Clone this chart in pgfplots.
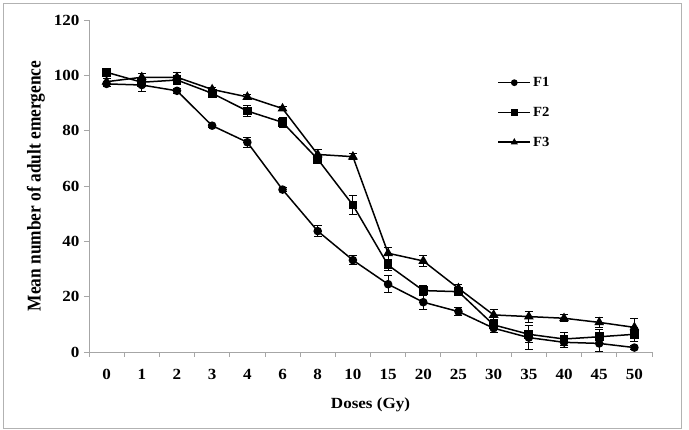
\documentclass[border=0pt]{standalone}
\usepackage{pgfplots}
\pgfplotsset{compat=1.18}
\usepackage{pgfplotstable}
\usepackage{fontspec}
\setmainfont{Liberation Serif}[FakeStretch=1.1]
\newfontfamily\ylabfont{Liberation Serif}[FakeStretch=0.89]
\newfontfamily\legfont{Liberation Serif}[FakeStretch=1.05]

\pgfplotstableread{
x F1 e1 F2 e2 F3 e3
0 96.9 1.0 101.1 0.8 97.7 1.0
1 96.5 2.3 97.5 1.5 99.3 1.5
2 94.4 1.0 98.3 1.5 99.3 1.8
3 81.8 0.6 93.5 1.0 94.9 0.8
4 75.8 1.8 87.1 2.0 92.2 1.0
5 58.7 0.8 83.0 1.8 88.0 0.8
6 43.7 2.0 69.7 1.5 71.4 1.8
7 33.2 1.5 53.1 3.4 70.6 1.0
8 24.5 3.0 31.4 1.8 35.7 2.2
9 18.0 2.7 22.2 1.8 32.9 2.0
10 14.6 1.5 21.8 1.0 23.0 1.5
11 8.6 1.5 9.8 1.5 13.4 1.8
12 5.2 4.4 6.4 3.0 12.8 2.0
13 3.5 2.0 4.7 2.5 12.2 1.2
14 3.1 3.0 5.5 2.5 10.7 1.8
15 1.6 0.6 6.4 2.5 8.9 3.1
}\data

\begin{document}
\begin{tikzpicture}[x=1pt,y=1pt]
\path[use as bounding box] (-89,-78) rectangle (600,352);
\draw[gray!60, line width=0.8pt] (-86,-76) rectangle (592,349);
\begin{axis}[
  at={(0,0)}, anchor=south west,
  scale only axis, width=563pt, height=332pt,
  xmin=-0.5, xmax=15.5, ymin=0, ymax=120,
  axis x line*=bottom, axis y line*=left,
  axis line style={gray!70, line width=0.8pt},
  every tick/.style={gray!70, line width=0.8pt},
  tick align=outside, major tick length=5pt,
  /pgf/number format/assume math mode=true,
  xtick={-0.5,0.5,...,15.5}, xticklabels={},
  extra x ticks={0,1,...,15},
  extra x tick labels={0,1,2,3,4,6,8,10,15,20,25,30,35,40,45,50},
  extra x tick style={major tick length=0pt},
  ytick={0,20,...,120},
  tick label style={font=\fontsize{15.5}{18}\selectfont\bfseries},
  yticklabel style={xshift=-1pt},
  xticklabel style={yshift=-14pt},
  xlabel={Doses (Gy)},
  xlabel style={font=\fontsize{15.5}{18}\selectfont\bfseries, yshift=-6pt},
  ylabel={Mean number of adult emergence},
  ylabel style={font=\fontsize{19.5}{22}\ylabfont\bfseries, yshift=2pt},
  legend style={draw=none, fill=none, at={(0.72,0.84)}, anchor=north west,
    font=\fontsize{14}{16}\legfont\bfseries, row sep=15pt},
  legend cell align=left,
  legend image code/.code={\draw[line width=1.5pt, mark repeat=2,mark phase=2, mark size=2.6pt] plot coordinates {(0pt,0pt) (16pt,0pt) (32pt,0pt)};},
  error bars/error bar style={line width=1pt, black},
  error bars/error mark options={rotate=90, mark size=4pt, line width=1pt, black},
]
\addplot[black, line width=1.5pt, mark=*, mark size=3.5pt, mark options={solid, fill=black},
  error bars/.cd, y dir=both, y explicit]
  table[x=x, y=F1, y error=e1] {\data};
\addlegendentry{F1}
\addplot[black, line width=1.5pt, mark=square*, mark size=3.6pt, mark options={solid, fill=black},
  error bars/.cd, y dir=both, y explicit]
  table[x=x, y=F2, y error=e2] {\data};
\addlegendentry{F2}
\addplot[black, line width=1.5pt, mark=triangle*, mark size=4.2pt, mark options={solid, fill=black},
  error bars/.cd, y dir=both, y explicit]
  table[x=x, y=F3, y error=e3] {\data};
\addlegendentry{F3}
\end{axis}
\end{tikzpicture}
\end{document}
